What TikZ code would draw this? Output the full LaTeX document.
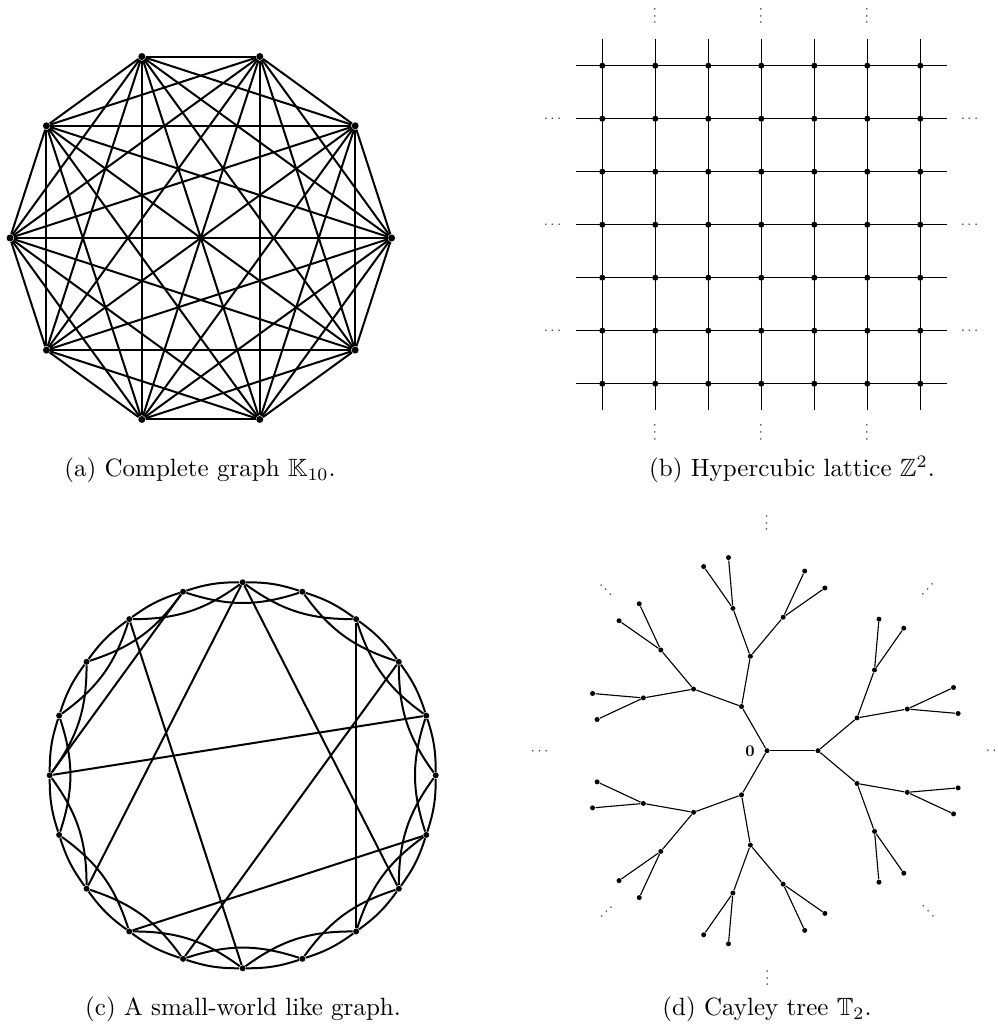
\documentclass[tikz,border=0pt]{standalone}
\usepackage{amssymb}
\begin{document}
\begin{tikzpicture}[x=0.4pt, y=0.4pt,
  kdot/.style={circle, fill=black, inner sep=0pt, minimum size=2.8pt},
  ldot/.style={circle, fill=black, inner sep=0pt, minimum size=2.4pt},
  sdot/.style={circle, fill=black, inner sep=0pt, minimum size=2.4pt},
  tdot/.style={circle, fill=black, inner sep=0pt, minimum size=2pt},
  thick edge/.style={line width=0.8pt},
  more/.style={inner sep=0pt, scale=0.6, black!80},
  subcap/.style={anchor=base, font=\normalsize}]
  \useasboundingbox (0,0) rectangle (997,1030);
  % (a) complete graph
  \foreach \k in {0,...,9}
    \node[kdot] (k\k) at ({200.8+190.8*cos(36*\k)},{792+190.8*sin(36*\k)}) {};
  \foreach \i in {0,...,8} {
    \pgfmathtruncatemacro\nxt{\i+1}
    \foreach \j in {\nxt,...,9}
      \draw[thick edge] (k\i) -- (k\j);
  }
  \node[subcap] (capa) at (200,553) {(a) Complete graph $\mathbb{K}_{10}$.};
  % (b) square lattice
  \foreach \j in {0,...,6} {
    \coordinate (hl\j) at (575.8,{964.3-53*\j});
    \coordinate (hr\j) at (946.8,{964.3-53*\j});
    \coordinate (vt\j) at ({602.3+53*\j},990.8);
    \coordinate (vb\j) at ({602.3+53*\j},619.8);
    \draw[line width=0.5pt] (hl\j) -- (hr\j);
    \draw[line width=0.5pt] (vt\j) -- (vb\j);
  }
  \foreach \i in {0,...,6}
    \foreach \j in {0,...,6}
      \node[ldot] (g\i\j) at ({602.3+53*\i},{964.3-53*\j}) {};
  \foreach \j in {1,3,5} {
    \node[more, rotate=90] (up\j) at ({602.3+53*\j},1014) {$\cdots$};
    \node[more, rotate=90] (dn\j) at ({602.3+53*\j},597.5) {$\cdots$};
    \node[more] (lf\j) at (552.5,{964.3-53*\j}) {$\cdots$};
    \node[more] (rt\j) at (969.5,{964.3-53*\j}) {$\cdots$};
  }
  \node[subcap] (capb) at (792,553) {(b) Hypercubic lattice $\mathbb{Z}^2$.};
  % (c) small world
  \foreach \k in {0,...,19}
    \node[sdot] (s\k) at ({242.7+193*sin(18*\k)},{254.7+193*cos(18*\k)}) {};
  \foreach \k in {0,...,19} {
    \pgfmathtruncatemacro\one{mod(\k+1,20)}
    \pgfmathtruncatemacro\two{mod(\k+2,20)}
    \draw[thick edge] (s\k) to[bend left=9] (s\one);
    \draw[thick edge] (s\k) to[bend right=18] (s\two);
  }
  \foreach \a/\b in {0/13, 0/7, 18/10, 19/15, 15/4, 2/8, 3/11, 12/6}
    \draw[thick edge] (s\a) -- (s\b);
  \node[subcap] (capc) at (243,14) {(c) A small-world like graph.};
  % (d) Cayley tree
  \node[tdot] (o) at (767,279.3) {};
  \node[scale=0.65, inner sep=0pt] (olbl) at (750,278.3) {$\mathbf{0}$};
  \foreach \d [count=\i] in {0,120,240} {
    \path (o) ++(\d:51) node[tdot] (t\i) {};
    \draw[line width=0.45pt] (o) -- (t\i);
    \foreach \e [count=\j] in {40,-40} {
      \pgfmathsetmacro\dd{\d+\e}
      \path (t\i) ++(\dd:51) node[tdot] (t\i\j) {};
      \draw[line width=0.45pt] (t\i) -- (t\i\j);
      \foreach \f [count=\m] in {30,-30} {
        \pgfmathsetmacro\ddd{\dd+\f}
        \path (t\i\j) ++(\ddd:51) node[tdot] (t\i\j\m) {};
        \draw[line width=0.45pt] (t\i\j) -- (t\i\j\m);
        \foreach \g [count=\n] in {15,-15} {
          \pgfmathsetmacro\dddd{\ddd+\g}
          \path (t\i\j\m) ++(\dddd:51) node[tdot] (t\i\j\m\n) {};
          \draw[line width=0.45pt] (t\i\j\m) -- (t\i\j\m\n);
        }
      }
    }
  }
  \foreach \a in {0,45,...,315}
    \node[more, rotate=\a] (far\a) at ({767+227.5*cos(\a)},{279.3+227.5*sin(\a)}) {$\cdots$};
  \node[subcap] (capd) at (767,14) {(d) Cayley tree $\mathbb{T}_2$.};
\end{tikzpicture}
\end{document}
